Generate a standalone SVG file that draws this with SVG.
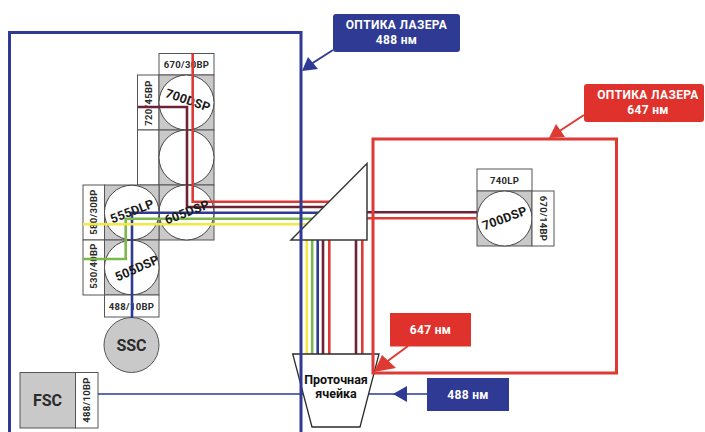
<svg xmlns="http://www.w3.org/2000/svg" width="705" height="432" viewBox="0 0 705 432">
<style>
text{font-family:"Roboto","Liberation Sans",sans-serif;font-weight:700;text-anchor:middle;dominant-baseline:central;fill:#2b2b2b}
.box{fill:#fff;stroke:#555;stroke-width:1}
.sq{fill:#c9c9c9;stroke:#555;stroke-width:1}
.c{fill:#fff;stroke:#444;stroke-width:1}
.s{font-size:9.5px;letter-spacing:.3px}
.m{font-size:12.5px;fill:#1a1a1a;letter-spacing:.2px}
.w{fill:#fff;font-size:12px;letter-spacing:.35px}
.l{fill:none;stroke-width:2.6}
.r{stroke:#dd3a34}.d{stroke:#6e2236}.b{stroke:#2e3a94}.g{stroke:#7cb84a}.y{stroke:#f3e844}
</style>
<rect width="705" height="432" fill="#fff"/>
<g id="filter-670-30"><rect class="box" x="159" y="53.5" width="55" height="21.5"/><text class="s" x="186.5" y="64.5">670/30BP</text></g>
<g id="filter-720-45"><rect class="box" x="137.5" y="75" width="21.5" height="55"/><text class="s" transform="translate(148 103) rotate(-90)">720/45BP</text></g>
<g id="empty-slot"><rect class="box" x="137.5" y="130" width="21.5" height="55"/></g>
<g id="mirror-700-top"><rect class="sq" x="159" y="75" width="55" height="55"/><circle class="c" cx="186.5" cy="102.5" r="27.5"/><text class="m" transform="translate(188 100) rotate(19)">700DSP</text></g>
<g id="mirror-empty"><rect class="sq" x="159" y="130" width="55" height="55"/><circle class="c" cx="186.5" cy="157.5" r="27.5"/></g>
<g id="mirror-605"><rect class="sq" x="159" y="185" width="55" height="55"/><circle class="c" cx="186.5" cy="212.5" r="27.5"/></g>
<g id="mirror-555"><rect class="sq" x="104.5" y="185" width="54.5" height="55"/><circle class="c" cx="131.75" cy="212.5" r="27.3"/></g>
<g id="mirror-505"><rect class="sq" x="104.5" y="240" width="54.5" height="55"/><circle class="c" cx="131.75" cy="267.5" r="27.3"/></g>
<g id="filter-580-30"><rect class="box" x="83" y="185" width="21.5" height="55"/><text class="s" transform="translate(93.5 212) rotate(-90)">580/30BP</text></g>
<g id="filter-530-40"><rect class="box" x="83" y="240" width="21.5" height="55"/><text class="s" transform="translate(93.5 266) rotate(-90)">530/40BP</text></g>
<g id="filter-488-10"><rect class="box" x="104.5" y="295" width="54.5" height="22"/><text class="s" x="131.5" y="306">488/10BP</text></g>
<g id="ssc"><circle cx="131.5" cy="345" r="27.5" fill="#c9c9c9" stroke="#555"/><text x="131.5" y="345" style="font-size:16px">SSC</text></g>
<g id="fsc"><rect class="sq" x="20" y="372.5" width="55.5" height="55.5"/><text x="47.5" y="400" style="font-size:16px">FSC</text><rect class="box" x="75.5" y="372.5" width="22.5" height="55.5"/><text class="s" transform="translate(86.5 400) rotate(-90)">488/10BP</text></g>
<g id="right-detector"><rect class="box" x="477" y="169" width="55" height="22"/><text class="s" x="504.5" y="180">740LP</text><rect class="sq" x="477" y="191" width="55" height="55"/><circle class="c" cx="504.5" cy="218.5" r="27.5"/><rect class="box" x="532" y="191" width="22" height="55"/><text class="s" transform="translate(543 218.5) rotate(90)">670/14BP</text></g>
<g id="connectors">
<path class="l r" d="M192.7 53.5V201.7H340"/>
<path class="l d" d="M138 107H187V207H340"/>
<path class="l b" d="M132 318V212.7H340"/>
<path class="l g" d="M83 259H125.7V218.7H340"/>
<path class="l y" d="M83 224.3H340"/>
<path class="l d" d="M360 212.3H477"/>
<path class="l r" d="M360 218.3H477"/>
<path class="l y" d="M306.7 235V354"/>
<path class="l g" d="M312.2 235V354"/>
<path class="l b" d="M317.7 235V354"/>
<path class="l d" d="M323 235V354"/>
<path class="l r" d="M329.3 235V354"/>
<path class="l d" d="M356 235V354"/>
<path class="l r" d="M362.3 235V354"/>
<path d="M98 394H303M368 394H427" fill="none" stroke="#2e3a94" stroke-width="1.6"/>
</g>
<g id="labels-over-mirrors">
<text class="m" transform="translate(187 212) rotate(-21)">605DSP</text>
<text class="m" transform="translate(132 211) rotate(-21)">555DLP</text>
<text class="m" transform="translate(137 268) rotate(-24)">505DSP</text>
<text class="m" transform="translate(504.5 218) rotate(-20)">700DSP</text>
</g>
<g id="prism"><path d="M291 240L367 163.5V240Z" fill="#fff" stroke="#3a3a3a" stroke-width="1.5"/></g>
<g id="flow-cell"><path d="M292.7 354H379L360 427H312Z" fill="#fff" stroke="#2b2b2b" stroke-width="1.3"/><text x="336" y="379" style="font-size:12.5px;fill:#111">Проточная</text><text x="336" y="393" style="font-size:12.5px;fill:#111">ячейка</text></g>
<g id="frame-488"><path d="M9.5 432V32.5H301V432" fill="none" stroke="#2e3a94" stroke-width="3"/></g>
<g id="frame-647"><path d="M373 139H616.5V373H373Z" fill="none" stroke="#dd3a34" stroke-width="3"/></g>
<g id="callout-488"><path d="M333 50L308 66" stroke="#2e3a94" stroke-width="2"/><path d="M302 71L308 57L318 69Z" fill="#2e3a94"/><rect x="333" y="14" width="127" height="38" rx="3" fill="#2e3a94"/><text class="w" x="396.5" y="25">ОПТИКА ЛАЗЕРА</text><text class="w" x="396.5" y="40">488 нм</text></g>
<g id="callout-647"><path d="M584 115L558 132" stroke="#dd3a34" stroke-width="2"/><path d="M549 138L556 124L565 137Z" fill="#dd3a34"/><rect x="584" y="84" width="120" height="38" rx="3" fill="#e0322d"/><text class="w" x="648" y="95">ОПТИКА ЛАЗЕРА</text><text class="w" x="648" y="110">647 нм</text></g>
<g id="badge-647"><path d="M408 346L385 363" stroke="#dd3a34" stroke-width="2"/><path d="M374 372L382 355L396 368Z" fill="#dd3a34"/><rect x="390" y="313" width="81" height="33.5" fill="#e0322d"/><text class="w" x="430.5" y="330">647 нм</text></g>
<g id="badge-488"><path d="M393 394L407 386V402Z" fill="#2e3a94"/><rect x="427" y="378" width="82" height="33" fill="#2e3a94"/><text class="w" x="468" y="394.5">488 нм</text></g>
</svg>
